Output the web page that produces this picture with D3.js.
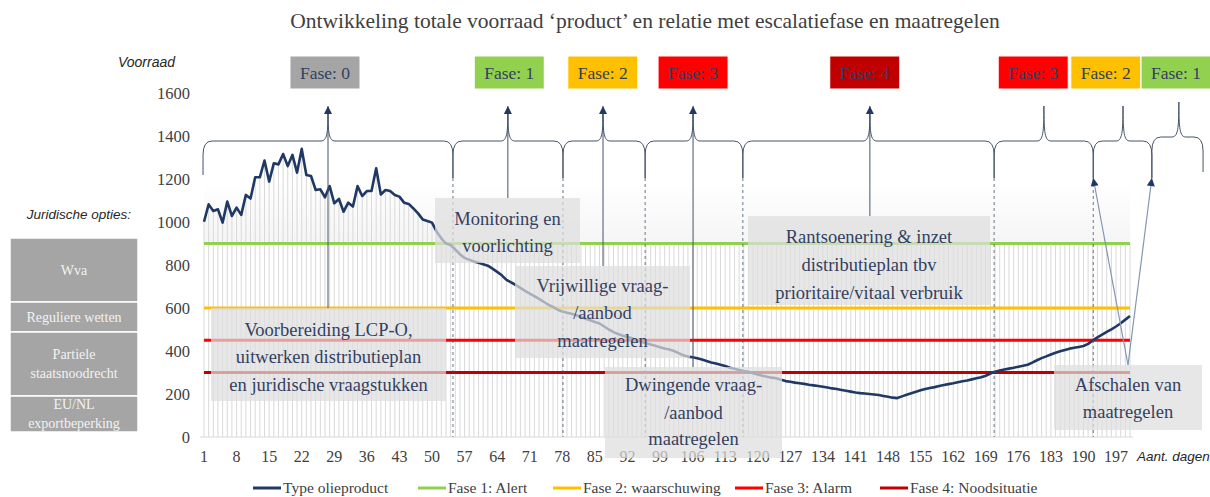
<!DOCTYPE html>
<html>
<head>
<meta charset="utf-8">
<script src="https://cdn.jsdelivr.net/npm/d3@7"></script>
<style>
  body { margin: 0; background: #fff; }
  svg { display: block; }
  .serif { font-family: "Liberation Serif", "DejaVu Serif", serif; }
  .sans { font-family: "Liberation Sans", Arial, sans-serif; }
</style>
</head>
<body>
<svg id="chart" width="1210" height="497"></svg>
<script>
// Voorraad per dag (dag 1 t/m 200)
const voorraad = [
  1001, 1082, 1051, 1059, 997, 1095, 1028, 1067, 1033, 1126,
  1109, 1208, 1208, 1286, 1188, 1273, 1268, 1316, 1260, 1312,
  1230, 1340, 1219, 1214, 1149, 1152, 1115, 1167, 1087, 1107,
  1048, 1090, 1072, 1167, 1121, 1144, 1144, 1250, 1128, 1149,
  1144, 1126, 1118, 1090, 1084, 1063, 1040, 1012, 1005, 997,
  955, 924, 900, 893, 872, 850, 833, 824, 816, 810,
  804, 797, 783, 768, 752, 731, 719, 707, 694, 680,
  667, 655, 642, 629, 615, 605, 592, 584, 578, 573,
  566, 558, 550, 543, 535, 528, 514, 500, 488, 479,
  471, 465, 459, 450, 443, 436, 430, 424, 418, 412,
  407, 400, 390, 380, 374, 371, 366, 360, 353, 347,
  342, 336, 330, 322, 317, 312, 307, 303, 297, 291,
  285, 280, 276, 273, 266, 260, 257, 253, 250, 247,
  243, 240, 237, 234, 230, 226, 223, 219, 215, 211,
  207, 204, 202, 200, 198, 195, 191, 187, 183, 181,
  189, 196, 203, 210, 217, 223, 228, 232, 237, 242,
  246, 250, 255, 259, 263, 268, 273, 278, 285, 295,
  303, 309, 314, 318, 322, 327, 331, 336, 346, 357,
  367, 375, 384, 392, 399, 405, 411, 415, 419, 423,
  433, 449, 463, 476, 489, 501, 514, 529, 546, 563
];
const dagen = voorraad.map((_, i) => i + 1);

// Drempelwaarden van de escalatiefasen
const faseNamen = ['Fase 1: Alert', 'Fase 2: waarschuwing', 'Fase 3: Alarm', 'Fase 4: Noodsituatie'];
const faseWaarden = [900, 600, 450, 300];
const faseKleuren = ['#92d050', '#ffc000', '#ff0000', '#c00000'];

// As-labels
const yTicks = [0, 200, 400, 600, 800, 1000, 1200, 1400, 1600];
const xTicks = d3.range(1, 201, 7);

// Fasebalk bovenaan: label, kleur, midden van blok (dag), top van de accolade (dag)
const faseBlokken = ['Fase: 0', 'Fase: 1', 'Fase: 2', 'Fase: 3', 'Fase: 4', 'Fase: 3', 'Fase: 2', 'Fase: 1'];
const blokKleuren = ['#a5a5a5', '#92d050', '#ffc000', '#ff0000', '#c00000', '#ff0000', '#ffc000', '#92d050'];
const blokMidden = [27.0, 66.6, 86.7, 106.1, 143.0, 179.2, 194.8, 209.9];
const accoladeGrenzen = [0.79, 54.5, 78.15, 95.8, 116.8, 170.8, 192.1, 204.7, 215.7];
const accoladeToppen = [27.65, 66.3, 86.75, 106.1, 144.1, 181.5, 198.5, 210.5];

// Maatregelen (tekstblokken)
const maatregelen = [
  { lines: ['Voorbereiding LCP-O,', 'uitwerken distributieplan', 'en juridische vraagstukken'], x0: 211, x1: 446, y0: 308, y1: 401, ty: [330, 357, 385] },
  { lines: ['Monitoring en', 'voorlichting'], x0: 435, x1: 580, y0: 198, y1: 263, ty: [219, 246] },
  { lines: ['Vrijwillige vraag-', '/aanbod', 'maatregelen'], x0: 515, x1: 690, y0: 266, y1: 358, ty: [286, 313, 341] },
  { lines: ['Dwingende vraag-', '/aanbod', 'maatregelen'], x0: 605, x1: 782, y0: 367, y1: 458, ty: [385, 413, 439] },
  { lines: ['Rantsoenering & inzet', 'distributieplan tbv', 'prioritaire/vitaal verbruik'], x0: 748, x1: 990, y0: 216, y1: 305, ty: [237, 265, 293] },
  { lines: ['Afschalen van', 'maatregelen'], x0: 1054, x1: 1202, y0: 365, y1: 430, ty: [385, 412] }
];
// welke accoladetop naar welk tekstblok wijst
const pijlNaarBlok = [0, 1, 2, 3, 4];

// Juridische opties (links)
const juridisch = [
  { lines: ['Wva'], y0: 238, y1: 302 },
  { lines: ['Reguliere wetten'], y0: 302, y1: 332 },
  { lines: ['Partiele', 'staatsnoodrecht'], y0: 332, y1: 396 },
  { lines: ['EU/NL', 'exportbeperking'], y0: 396, y1: 432 }
];

const svg = d3.select('#chart');
const navy = '#1f3864';
const tekstKleur = '#333f5f';

const x = d3.scaleLinear().domain([1, 200]).range([204, 1130]);
const y = d3.scaleLinear().domain([0, 1600]).range([437, 93]);

// pijlpunt (wijst in de richting van de lijn)
const defs = svg.append('defs');
defs.append('marker')
    .attr('id', 'pijl')
    .attr('viewBox', '0 0 10 10')
    .attr('refX', 10).attr('refY', 5)
    .attr('markerWidth', 9).attr('markerHeight', 8)
    .attr('markerUnits', 'userSpaceOnUse')
    .attr('orient', 'auto')
    .append('path')
    .attr('d', 'M0,0 L10,5 L0,10 Z')
    .attr('fill', navy);

const grad = defs.append('linearGradient')
    .attr('id', 'achtergrond').attr('x1', 0).attr('x2', 0).attr('y1', 0).attr('y2', 1);
grad.append('stop').attr('offset', '0%').attr('stop-color', '#ffffff');
grad.append('stop').attr('offset', '100%').attr('stop-color', '#f5f5f5');

svg.append('rect')
    .attr('x', x(1)).attr('width', x(200) - x(1))
    .attr('y', 180).attr('height', y(900) - 180)
    .attr('fill', 'url(#achtergrond)');

// Titel
svg.append('text')
    .attr('class', 'serif')
    .attr('x', 645).attr('y', 28)
    .attr('text-anchor', 'middle')
    .attr('font-size', 21.5)
    .attr('fill', '#404040')
    .text('Ontwikkeling totale voorraad ‘product’ en relatie met escalatiefase en maatregelen');

// Verticale streepjes per dag (droplijnen)
svg.append('g').selectAll('line')
    .data(dagen)
    .enter().append('line')
    .attr('x1', d => x(d)).attr('x2', d => x(d))
    .attr('y1', y(0))
    .attr('y2', d => y(Math.max(voorraad[d - 1], faseWaarden[0])))
    .attr('stroke', '#d9d9d9')
    .attr('stroke-width', 1);

// x-as lijn
svg.append('line')
    .attr('x1', 200).attr('x2', 1133)
    .attr('y1', y(0)).attr('y2', y(0))
    .attr('stroke', '#d9d9d9').attr('stroke-width', 1);

// y-as labels
svg.append('g').selectAll('text')
    .data(yTicks)
    .enter().append('text')
    .attr('class', 'serif')
    .attr('x', 190).attr('y', d => y(d))
    .attr('dy', '0.35em')
    .attr('text-anchor', 'end')
    .attr('font-size', 16.5)
    .attr('fill', '#404040')
    .text(d => d);

// x-as labels
svg.append('g').selectAll('text')
    .data(xTicks)
    .enter().append('text')
    .attr('class', 'serif')
    .attr('x', d => x(d)).attr('y', 456)
    .attr('dy', '0.35em')
    .attr('text-anchor', 'middle')
    .attr('font-size', 16)
    .attr('fill', '#404040')
    .text(d => d);

svg.append('text')
    .attr('class', 'sans')
    .attr('x', 175).attr('y', 62)
    .attr('dy', '0.35em')
    .attr('text-anchor', 'end')
    .attr('font-style', 'italic')
    .attr('font-size', 14)
    .attr('fill', '#262626')
    .text('Voorraad');

svg.append('text')
    .attr('class', 'sans')
    .attr('x', 1137).attr('y', 456)
    .attr('dy', '0.35em')
    .attr('font-style', 'italic')
    .attr('font-size', 13.5)
    .attr('fill', '#262626')
    .text('Aant. dagen');

// Fasedrempels
svg.append('g').selectAll('line')
    .data(faseWaarden)
    .enter().append('line')
    .attr('x1', x(1)).attr('x2', x(200))
    .attr('y1', d => y(d)).attr('y2', d => y(d))
    .attr('stroke', (d, i) => faseKleuren[i])
    .attr('stroke-width', 3);

// Voorraadlijn
const lijn = d3.line()
    .x((d, i) => x(dagen[i]))
    .y(d => y(d));

svg.append('path')
    .datum(voorraad)
    .attr('d', lijn)
    .attr('fill', 'none')
    .attr('stroke', navy)
    .attr('stroke-width', 2.6)
    .attr('stroke-linejoin', 'round');

// Gestippelde grenzen van de fasen
svg.append('g').selectAll('line')
    .data(accoladeGrenzen.slice(1, 7))
    .enter().append('line')
    .attr('x1', d => x(d)).attr('x2', d => x(d))
    .attr('y1', 178).attr('y2', y(0))
    .attr('stroke', '#44546a')
    .attr('stroke-width', 0.8)
    .attr('stroke-dasharray', '3,3');

// Tekstblokken maatregelen
const blok = svg.append('g').selectAll('g')
    .data(maatregelen)
    .enter().append('g');

blok.append('rect')
    .attr('x', d => d.x0).attr('y', d => d.y0)
    .attr('width', d => d.x1 - d.x0).attr('height', d => d.y1 - d.y0)
    .attr('fill', '#dedede')
    .attr('opacity', 0.72);

blok.each(function (d) {
    const g = d3.select(this);
    d.lines.forEach((t, i) => {
        g.append('text')
            .attr('class', 'serif')
            .attr('x', (d.x0 + d.x1) / 2).attr('y', d.ty[i])
            .attr('dy', '0.35em')
            .attr('text-anchor', 'middle')
            .attr('font-size', 18.5)
            .attr('fill', tekstKleur)
            .text(t);
    });
});

// Accolades
const yH = 141;
function accolade(x0, xm, x1, h, top, b0, b1) {
    return `M${x0},${b0} L${x0},${h + 14} Q${x0},${h} ${x0 + 9},${h}` +
        ` L${xm - 7},${h} C${xm - 1},${h} ${xm},${h - 8} ${xm},${top}` +
        ` C${xm},${h - 8} ${xm + 1},${h} ${xm + 7},${h}` +
        ` L${x1 - 9},${h} Q${x1},${h} ${x1},${h + 14} L${x1},${b1}`;
}

svg.append('g').selectAll('path')
    .data(accoladeToppen)
    .enter().append('path')
    .attr('d', (d, i) => {
        const laatste = i === accoladeToppen.length - 1;
        const h = laatste ? 137 : yH;
        const top = laatste ? 102 : (i < 5 ? 112 : 106);
        return accolade(x(accoladeGrenzen[i]), x(d), x(accoladeGrenzen[i + 1]), h, top,
            i === 0 ? 175 : 178, laatste ? 172 : 178);
    })
    .attr('fill', 'none')
    .attr('stroke', '#44546a')
    .attr('stroke-width', 1);

// Pijlen van accoladetop naar maatregel
svg.append('g').selectAll('line')
    .data(pijlNaarBlok)
    .enter().append('line')
    .attr('x1', (d, i) => x(accoladeToppen[i])).attr('x2', (d, i) => x(accoladeToppen[i]))
    .attr('y1', d => maatregelen[d].y0)
    .attr('y2', 106)
    .attr('stroke', '#44546a')
    .attr('stroke-width', 1)
    .attr('marker-end', 'url(#pijl)');

// Pijlen van 'Afschalen van maatregelen' naar de accolades
const afschalen = maatregelen[5];
[accoladeGrenzen[6], accoladeGrenzen[7]].forEach(d => {
    svg.append('line')
        .attr('x1', (afschalen.x0 + afschalen.x1) / 2).attr('y1', afschalen.y0)
        .attr('x2', x(d)).attr('y2', 178)
        .attr('stroke', '#8497b0')
        .attr('stroke-width', 1.2)
        .attr('marker-end', 'url(#pijl)');
});

// Fasebalk bovenaan
const fb = svg.append('g').selectAll('g')
    .data(faseBlokken)
    .enter().append('g');

fb.append('rect')
    .attr('x', (d, i) => x(blokMidden[i]) - 35).attr('y', 56)
    .attr('width', 70).attr('height', 33)
    .attr('fill', (d, i) => blokKleuren[i])
    .attr('stroke', '#fff').attr('stroke-width', 1);

fb.append('text')
    .attr('class', 'serif')
    .attr('x', (d, i) => x(blokMidden[i])).attr('y', 73)
    .attr('dy', '0.35em')
    .attr('text-anchor', 'middle')
    .attr('font-size', 17.5)
    .attr('fill', '#333f5f')
    .text(d => d);

// Juridische opties
svg.append('text')
    .attr('class', 'sans')
    .attr('x', 131).attr('y', 214)
    .attr('dy', '0.35em')
    .attr('text-anchor', 'end')
    .attr('font-style', 'italic')
    .attr('font-size', 13.5)
    .attr('fill', '#262626')
    .text('Juridische opties:');

const jur = svg.append('g').selectAll('g')
    .data(juridisch)
    .enter().append('g');

jur.append('rect')
    .attr('x', 10).attr('width', 128)
    .attr('y', d => d.y0).attr('height', d => d.y1 - d.y0)
    .attr('fill', '#a5a5a5')
    .attr('stroke', '#fff').attr('stroke-width', 1.5);

jur.each(function (d) {
    const g = d3.select(this);
    const mid = (d.y0 + d.y1) / 2;
    const n = d.lines.length;
    d.lines.forEach((t, i) => {
        g.append('text')
            .attr('class', 'serif')
            .attr('x', 74)
            .attr('y', mid + (i - (n - 1) / 2) * 19)
            .attr('dy', '0.35em')
            .attr('text-anchor', 'middle')
            .attr('font-size', 14)
            .attr('fill', '#f2f2f2')
            .text(t);
    });
});

// Legenda
const legendaNamen = ['Type olieproduct'].concat(faseNamen);
const legendaKleuren = [navy].concat(faseKleuren);
const legendaX = [253, 418, 553, 735, 880];

const lg = svg.append('g').selectAll('g')
    .data(legendaNamen)
    .enter().append('g')
    .attr('transform', (d, i) => `translate(${legendaX[i]},488)`);

lg.append('line')
    .attr('x1', 0).attr('x2', 28)
    .attr('stroke', (d, i) => legendaKleuren[i])
    .attr('stroke-width', 3);

lg.append('text')
    .attr('class', 'serif')
    .attr('x', 30)
    .attr('dy', '0.35em')
    .attr('font-size', 15.5)
    .attr('fill', '#404040')
    .text(d => d);
</script>
</body>
</html>
